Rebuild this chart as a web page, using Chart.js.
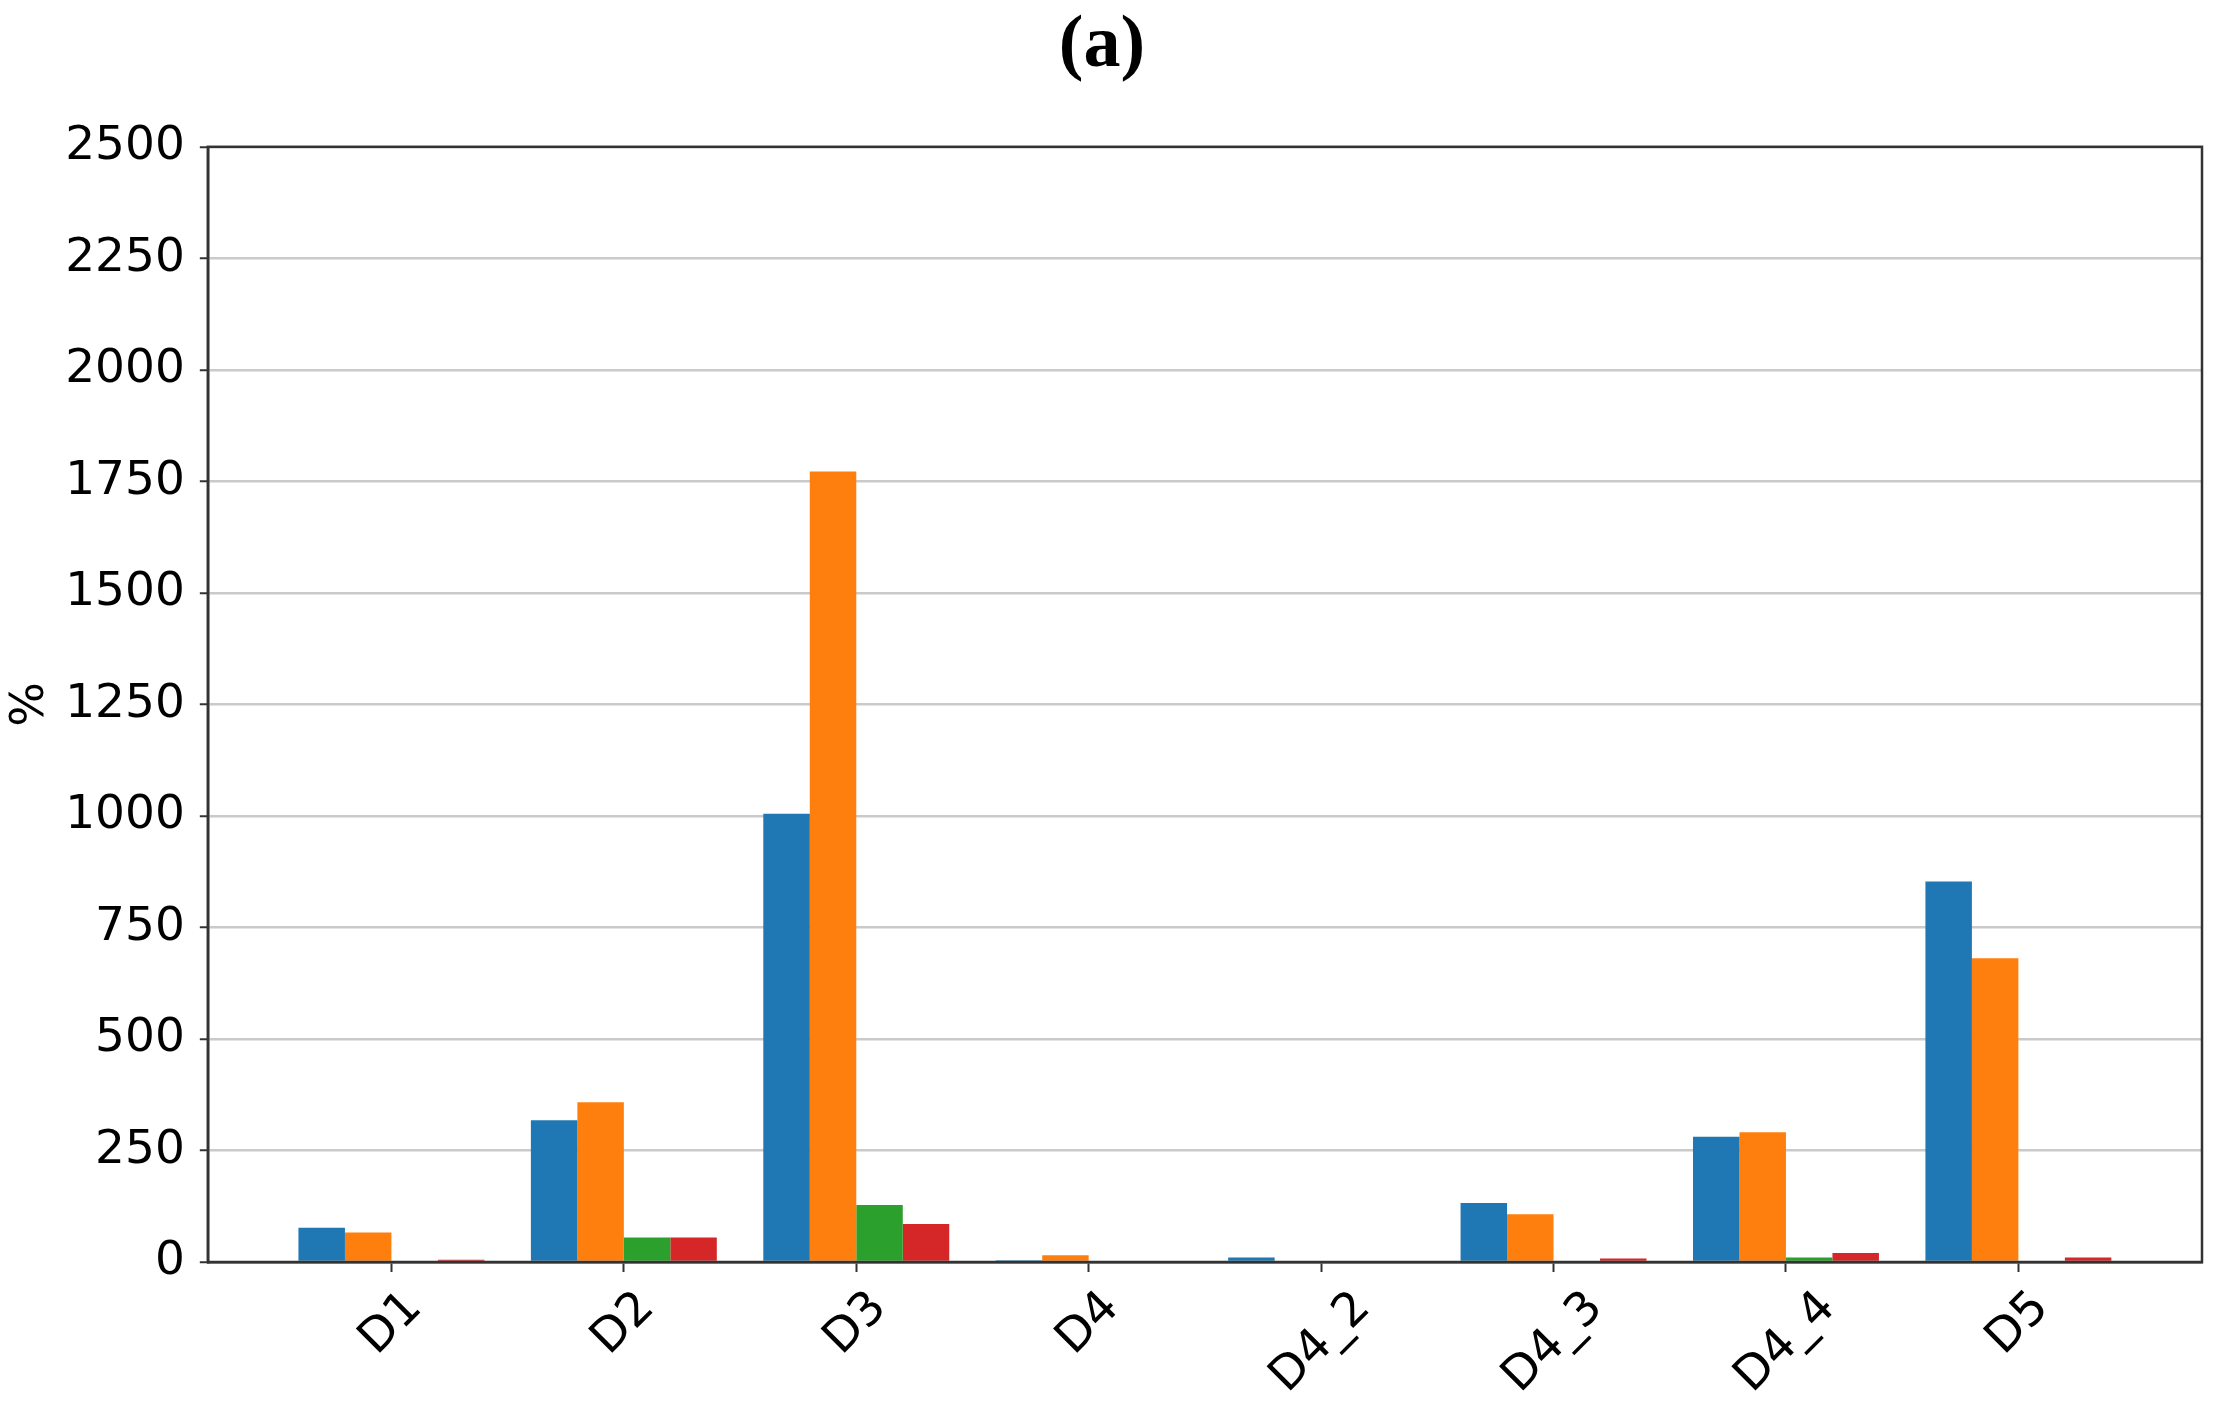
<!DOCTYPE html>
<html>
<head>
<meta charset="utf-8">
<script src="https://cdn.jsdelivr.net/npm/chart.js@4.4.1/dist/chart.umd.min.js"></script>
<style>
  body { margin: 0; background: #fff; }
  #wrap { width: 2222px; height: 1409px; }
</style>
</head>
<body>
<div id="wrap"><canvas id="grafico" width="2222" height="1409"></canvas></div>
<script>
// datos (a)
const categorias = ["D1", "D2", "D3", "D4", "D4_2", "D4_3", "D4_4", "D5"];
const serieAzul = [77, 318, 1005, 4, 10, 132, 281, 853];
const serieNaranja = [66, 358, 1772, 15, 0, 107, 291, 681];
const serieVerde = [0, 55, 128, 0, 0, 0, 10, 0];
const serieRoja = [5, 55, 85, 0, 0, 8, 20, 10];
const colores = ["#1f77b4", "#ff7f0e", "#2ca02c", "#d62728"];

window.addEventListener('load', function(){
    const canvas = document.getElementById('grafico');
    Chart.defaults.font.family = "'DejaVu Sans', sans-serif";
    Chart.defaults.color = "#000";
    const tamLetra = 47;

    const series = [serieAzul, serieNaranja, serieVerde, serieRoja];
    const datasets = series.map((serie, k) => ({
        label: "serie " + (k + 1),
        data: categorias.map((c, i) => ({x: i, y: serie[i]})),
        backgroundColor: colores[k],
        borderWidth: 0,
        categoryPercentage: 0.8,
        barPercentage: 1.0
    }));

    // marco completo alrededor del area del grafico
    const marco = {
        id: 'marco',
        afterDraw(chart) {
            const {ctx, chartArea} = chart;
            ctx.save();
            ctx.strokeStyle = "#333";
            ctx.lineWidth = 2.5;
            ctx.strokeRect(chartArea.left, chartArea.top, chartArea.right - chartArea.left, chartArea.bottom - chartArea.top);
            ctx.restore();
        }
    };

    // etiquetas del eje x giradas 45 grados, centradas en cada marca (como matplotlib)
    const etiquetasX = {
        id: 'etiquetasX',
        afterDraw(chart) {
            const {ctx, chartArea} = chart;
            const x = chart.scales.x;
            ctx.save();
            ctx.font = tamLetra + "px 'DejaVu Sans'";
            ctx.fillStyle = "#000";
            ctx.textAlign = "center";
            ctx.textBaseline = "middle";
            categorias.forEach((c, i) => {
                const w = ctx.measureText(c).width;
                const ext = (w + tamLetra) / Math.SQRT2;
                const px = x.getPixelForValue(i);
                const py = chartArea.bottom + 22 + ext / 2;
                ctx.save();
                ctx.translate(px, py);
                ctx.rotate(-Math.PI / 4);
                ctx.fillText(c, 0, 0);
                ctx.restore();
            });
            ctx.restore();
        }
    };

    new Chart(canvas, {
        type: 'bar',
        data: { datasets: datasets },
        plugins: [marco, etiquetasX],
        options: {
            responsive: false,
            animation: false,
            layout: { padding: { left: 2, right: 20, top: 2, bottom: 137 } },
            plugins: {
                legend: { display: false },
                tooltip: { enabled: false },
                title: {
                    display: true,
                    text: "(a)",
                    color: "#000",
                    font: { family: "'Liberation Serif', serif", size: 74, weight: 'bold' },
                    padding: { top: 0, bottom: 56 }
                }
            },
            scales: {
                x: {
                    type: 'linear',
                    min: -0.79,
                    max: 7.79,
                    offset: false,
                    afterBuildTicks: (axis) => {
                        axis.ticks = categorias.map((c, i) => ({value: i}));
                    },
                    ticks: { display: false },
                    grid: {
                        display: true,
                        offset: false,
                        drawOnChartArea: false,
                        drawTicks: true,
                        tickLength: 10,
                        tickColor: "#333",
                        tickWidth: 2
                    },
                    border: { display: true, color: "#333", width: 2.5 }
                },
                y: {
                    min: 0,
                    max: 2500,
                    z: 1,
                    ticks: {
                        stepSize: 250,
                        padding: 15,
                        font: { size: tamLetra },
                        color: "#000",
                        callback: (v) => String(v)
                    },
                    grid: {
                        color: "rgba(150,150,150,0.5)",
                        lineWidth: 2.5,
                        tickLength: 8,
                        tickColor: "#333",
                        tickWidth: 2
                    },
                    border: { display: true, color: "#333", width: 2.5 },
                    title: {
                        display: true,
                        text: "%",
                        color: "#000",
                        font: { size: tamLetra, lineHeight: 0.6 },
                        padding: { top: 15, bottom: 5 }
                    }
                }
            }
        }
    });
});
</script>
</body>
</html>
